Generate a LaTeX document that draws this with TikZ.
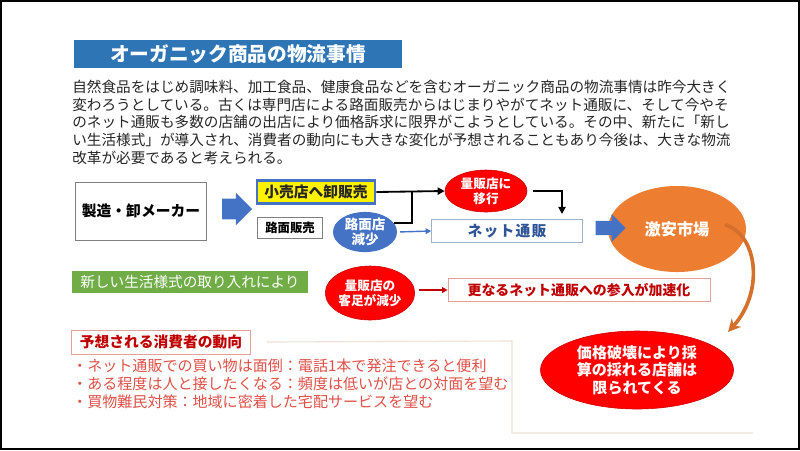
\documentclass[tikz,border=0pt]{standalone}
\usepackage{fontspec}
\setmainfont{Noto Sans CJK JP}
\usetikzlibrary{shapes.geometric,shapes.arrows,arrows.meta}

\definecolor{titleblue}{HTML}{2E75B6}
\definecolor{bodygray}{HTML}{262626}
\definecolor{boxgray}{HTML}{7F7F7F}
\definecolor{flowblue}{HTML}{4472C4}
\definecolor{netblue}{HTML}{2F5597}
\definecolor{netframe}{HTML}{9DB3CE}
\definecolor{cheaporange}{HTML}{ED7D31}
\definecolor{lifegreen}{HTML}{70AD47}
\definecolor{alarmred}{HTML}{FF0000}
\definecolor{darkred}{HTML}{C00000}
\definecolor{softred}{HTML}{E05048}
\definecolor{redframe}{HTML}{E3A09C}
\definecolor{tanline}{HTML}{EDE2D3}

\begin{document}
\begin{tikzpicture}[x=0.025cm, y=-0.025cm,
        plainbox/.style={rectangle, draw=boxgray, fill=white, text=black, font=\bfseries},
        redoval/.style={ellipse, fill=alarmred, draw=alarmred!80!black, text=white, font=\bfseries, align=center, inner sep=0pt},
        redbox/.style={rectangle, draw=redframe, fill=white, text=darkred, font=\bfseries},
        fatarrow/.style={single arrow, fill=flowblue, draw=none, inner xsep=0pt},
        blackarrow/.style={-{Triangle[length=5pt,width=5pt]}, line width=1.3pt, black},
        thinarrow/.style={-{Triangle[length=4pt,width=4pt]}, line width=1pt}
    ]
        \useasboundingbox (0,0) rectangle (800,450);
        \fill[white] (0,0) rectangle (800,450);
        \draw[line width=1.4pt] (1,1) rectangle (799,449);

        % title and text
        \node[rectangle, fill=titleblue, text=white, font=\fontsize{14}{16}\selectfont\bfseries,
              minimum width=8.175cm, minimum height=0.7cm] (title) at (238,54) {オーガニック商品の物流事情};
        \node[anchor=north west, inner sep=0pt, align=left, text=bodygray,
              font=\fontsize{10.4}{12.5}\selectfont] (intro) at (72,80)
            {自然食品をはじめ調味料、加工食品、健康食品などを含むオーガニック商品の物流事情は昨今大きく\\
             変わろうとしている。古くは専門店による路面販売からはじまりやがてネット通販に、そして今やそ\\
             のネット通販も多数の店舗の出店により価格訴求に限界がこようとしている。その中、新たに「新し\\
             い生活様式」が導入され、消費者の動向にも大きな変化が予想されることもあり今後は、大きな物流\\
             改革が必要であると考えられる。};

        % upper flow
        \node[plainbox, minimum width=3.275cm, minimum height=1.45cm,
              font=\fontsize{10.5}{12}\selectfont\bfseries] (maker) at (141,211) {製造・卸メーカー};
        \node[fatarrow, inner ysep=0.25cm, single arrow head extend=0.15cm,
              minimum height=0.75cm] (push) at (232,209) {};
        \node[rectangle, fill=yellow, draw=flowblue, line width=2pt, text=black!85,
              font=\fontsize{10.5}{12}\selectfont\bfseries,
              minimum width=2.95cm, minimum height=0.525cm] (retail) at (316,192) {小売店へ卸販売};
        \node[plainbox, minimum width=1.625cm, minimum height=0.475cm,
              font=\fontsize{8.8}{10}\selectfont\bfseries] (roadsale) at (290,228) {路面販売};
        \node[ellipse, fill=flowblue, text=white, font=\fontsize{9.6}{11}\selectfont\bfseries,
              align=center, inner sep=0pt, minimum width=1.6cm, minimum height=1cm] (roadshop) at (365,232) {路面店\\減少};
        \node[redoval, minimum width=2.05cm, minimum height=1.05cm,
              font=\fontsize{9}{11}\selectfont\bfseries] (massmove) at (486,191) {量販店に\\移行};
        \node[rectangle, draw=netframe, fill=white, text=netblue,
              font=\fontsize{10.5}{12}\selectfont\bfseries\addfontfeature{LetterSpace=8},
              minimum width=3.775cm, minimum height=0.575cm] (net) at (507,231) {ネット通販};
        \node[ellipse, fill=cheaporange, text=white, font=\fontsize{11.5}{13}\selectfont\bfseries,
              minimum width=3.45cm, minimum height=2.15cm] (cheap) at (677,229) {激安市場};
        \node[fatarrow, inner ysep=0.17cm, single arrow head extend=0.17cm,
              minimum height=0.75cm] (toward) at (607,228) {};

        \coordinate (tee) at (412,191);
        \coordinate (drop) at (562,214);
        \draw[blackarrow] (retail.east) -- (massmove.west);
        \draw[line width=1.3pt] (roadshop.18) -| (tee);
        \draw[blackarrow, shorten <=4pt] (massmove.east) -| (drop);
        \draw[thinarrow, flowblue, shorten <=2pt] (roadshop.east) -- (net.west);

        % lower flow
        \node[rectangle, fill=lifegreen, text=white, font=\fontsize{10.4}{12}\selectfont,
              minimum width=5.875cm, minimum height=0.525cm] (newlife) at (190,282) {新しい生活様式の取り入れにより};
        \node[redoval, minimum width=2.15cm, minimum height=1.35cm,
              font=\fontsize{9}{11}\selectfont\bfseries] (custdrop) at (370,293) {量販店の\\客足が減少};
        \node[redbox, minimum width=6.55cm, minimum height=0.55cm,
              font=\fontsize{9.9}{11}\selectfont\bfseries] (accel) at (579,290) {更なるネット通販への参入が加速化};
        \node[redoval, minimum width=4.825cm, minimum height=1.95cm,
              font=\fontsize{10.7}{12.5}\selectfont\bfseries] (crash) at (637,370)
            {価格破壊により採\\算の採れる店舗は\\限られてくる};

        \draw[thinarrow, darkred, shorten <=3pt] (custdrop.east |- accel.west) -- (accel.west);

        \coordinate (cheapin) at (726,225);
        \coordinate (crashtip) at (728,332);
        \draw[cheaporange!90!black, line width=2.6pt, line cap=round, -{Stealth[length=9pt,width=9pt]}]
            (cheapin) .. controls (758,236) and (764,292) .. (crashtip);

        % consumer trends
        \node[redbox, minimum width=4.475cm, minimum height=0.5cm,
              font=\fontsize{10.5}{12}\selectfont\bfseries] (trend) at (161,342) {予想される消費者の動向};
        \node[anchor=north west, inner sep=0pt, align=left, text=softred,
              font=\fontsize{10.7}{12.8}\selectfont] (hints) at (72,359)
            {・ネット通販での買い物は面倒：電話1本で発注できると便利\\
             ・ある程度は人と接したくなる：頻度は低いが店との対面を望む\\
             ・買物難民対策：地域に密着した宅配サービスを望む};
        \draw[tanline, line width=0.8pt] ([xshift=0.4cm]trend.east) -- (512,341) -- (512,433) -- (753,433);
    \end{tikzpicture}
\end{document}
